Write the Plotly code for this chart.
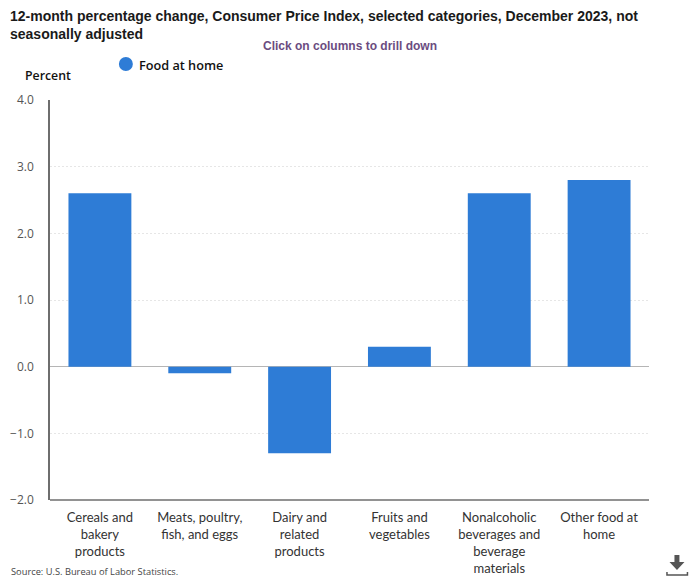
import plotly.graph_objects as go

categories = [
    "Cereals and<br>bakery<br>products",
    "Meats, poultry,<br>fish, and eggs",
    "Dairy and<br>related<br>products",
    "Fruits and<br>vegetables",
    "Nonalcoholic<br>beverages and<br>beverage<br>materials",
    "Other food at<br>home",
]
food_at_home = [2.6, -0.1, -1.3, 0.3, 2.6, 2.8]
y_ticks = [-2, -1, 0, 1, 2, 3, 4]
series_name = "Food at home"
title_text = (
    "12-month percentage change, Consumer Price Index, selected categories, "
    "December 2023, not<br>seasonally adjusted"
)

BLUE = "#2e7cd6"
AXIS_GREY = "#6e6e6e"
SANS = "Liberation Sans, Arial, sans-serif"
OPEN = "Open Sans, sans-serif"
LEFT, TOP, PLOT_W, PLOT_H = 49.5, 100, 600, 400


def px(x):
    """Page x in pixels to paper coordinates."""
    return (x - LEFT) / PLOT_W


def py(y):
    """Page y in pixels to paper coordinates."""
    return (TOP + PLOT_H - y) / PLOT_H


def outline(points):
    return "M " + " L ".join(f"{px(x):.4f} {py(y):.4f}" for x, y in points)


fig = go.Figure()
fig.add_trace(go.Bar(
    x=categories, y=food_at_home, width=0.63, name=series_name,
    marker=dict(color=BLUE, line=dict(width=0)),
    showlegend=False,
))

fig.update_layout(
    width=700, height=580,
    margin=dict(l=LEFT, r=700 - LEFT - PLOT_W, t=TOP, b=580 - TOP - PLOT_H),
    paper_bgcolor="white", plot_bgcolor="white",
    font=dict(family=OPEN, size=13, color="#333333"),
    title=dict(
        text=title_text, x=10 / 700, xanchor="left", y=1 - 21 / 580, yanchor="top",
        font=dict(family=SANS, size=14, color="#1a1a1a", weight="bold"),
    ),
    showlegend=False,
    xaxis=dict(
        type="category", range=[-0.5, 5.5], showgrid=False, ticks="",
        showline=False, tickfont=dict(family="Lato, sans-serif", size=13, color="#333333"),
        ticklabelstandoff=8, automargin=False,
    ),
    yaxis=dict(
        range=[-2, 4], tickvals=y_ticks, tickformat=".1f", ticks="",
        gridcolor="#e6e6e6", griddash="2px,2px", gridwidth=1,
        zeroline=True, zerolinecolor="#b5b5b5", zerolinewidth=1,
        showline=True, linecolor=AXIS_GREY, linewidth=1.5,
        tickfont=dict(family=OPEN, size=12, color="#555555"),
        ticklabelstandoff=12, automargin=False,
    ),
    annotations=[
        dict(text="Click on columns to drill down", xref="paper", yref="paper",
             x=px(350), y=py(46), xanchor="center", yanchor="middle",
             showarrow=False, font=dict(family=SANS, size=12, color="#6b4c7f", weight="bold")),
        dict(text=series_name, xref="paper", yref="paper",
             x=px(139), y=py(65), xanchor="left", yanchor="middle", xshift=-2,
             showarrow=False, font=dict(family=OPEN, size=12.7, color="#111111", weight=600)),
        dict(text="Percent", xref="paper", yref="paper",
             x=px(24), y=py(75), xanchor="left", yanchor="middle", xshift=-2,
             showarrow=False, font=dict(family=OPEN, size=12.3, color="#111111", weight=600)),
        dict(text="Source: U.S. Bureau of Labor Statistics.", xref="paper", yref="paper",
             x=px(10), y=py(571.5), xanchor="left", yanchor="middle", xshift=-2,
             showarrow=False, font=dict(family=OPEN, size=9.3, color="#444444")),
    ],
    shapes=[
        # Bottom axis line
        dict(type="line", xref="paper", yref="paper", x0=0, x1=1, y0=0, y1=0,
             line=dict(color=AXIS_GREY, width=1.5)),
        # Round legend key
        dict(type="circle", xref="paper", yref="paper",
             x0=px(118.5), x1=px(132.5), y0=py(71), y1=py(57),
             fillcolor=BLUE, line=dict(width=0)),
        # Download icon: arrow and tray
        dict(type="path", xref="paper", yref="paper",
             path=outline([(675, 555), (680, 555), (680, 562), (685, 562),
                           (677.5, 570), (670, 562), (675, 562)]) + " Z",
             fillcolor="#555555", line=dict(width=0)),
        dict(type="path", xref="paper", yref="paper",
             path=outline([(667.5, 572), (667.5, 575), (688, 575), (688, 572)]),
             line=dict(color="#555555", width=1.5)),
    ],
)

fig.write_html("out.html", config={"displayModeBar": False})
